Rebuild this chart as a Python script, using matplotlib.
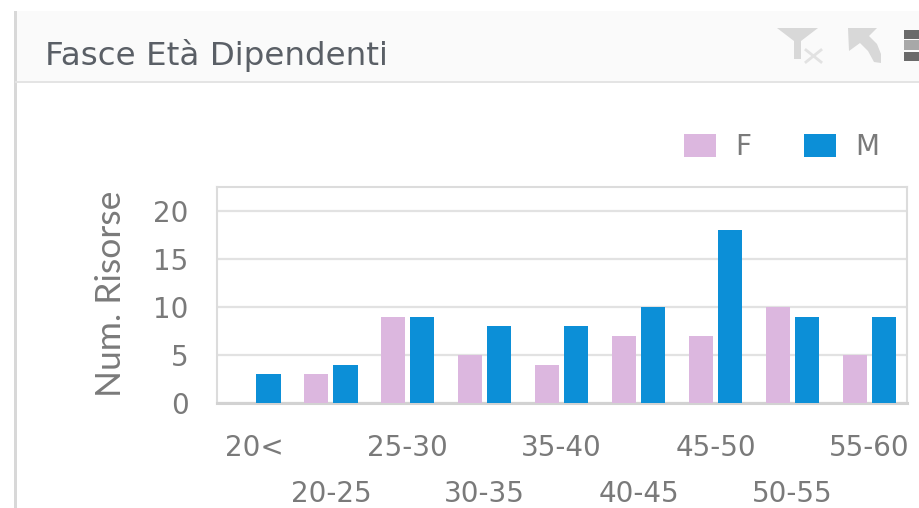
import matplotlib
matplotlib.use("Agg")
import matplotlib.pyplot as plt
import numpy as np
from matplotlib.patches import Polygon, Rectangle

plt.rcParams['font.family'] = ['DejaVu Sans']

categories = ['20<', '20-25', '25-30', '30-35', '35-40', '40-45', '45-50', '50-55', '55-60']
female = [0, 3, 9, 5, 4, 7, 7, 10, 5]
male = [3, 4, 9, 8, 8, 10, 18, 9, 9]
y_ticks = [0, 5, 10, 15, 20]
title = 'Fasce Età Dipendenti'
y_label = 'Num. Risorse'

W, H = 920, 508
TXT = '#7a7a7a'
fig = plt.figure(figsize=(W / 100, H / 100), dpi=100, facecolor='white')

# page furniture in pixel coordinates
bg = fig.add_axes([0, 0, 1, 1], zorder=0)
bg.set_xlim(0, W); bg.set_ylim(H, 0); bg.axis('off')
bg.add_patch(Rectangle((16, 11), W - 16, 71, fc='#fafafa', ec='none'))
bg.plot([16, W], [82, 82], color='#e4e4e4', lw=1.4)
bg.add_patch(Rectangle((14, 11), 3, H - 11, fc='#d8d8d8', ec='none'))
bg.text(45, 55, title, fontsize=23.4, color='#5a5f66', va='center', ha='left')
bg.add_patch(Polygon([(777, 28), (818, 28), (801, 41), (801, 59), (794, 59), (794, 41)], fc='#d8d8d8', ec='none'))
bg.plot([806, 821], [50, 62], color='#e2e2e2', lw=2)
bg.plot([806, 821], [62, 50], color='#e2e2e2', lw=2)
bg.add_patch(Polygon([(848, 28), (877, 28), (869, 36), (877, 44), (881, 54), (881, 63), (874, 62),
                      (868, 51), (860, 43), (849, 51)], fc='#d8d8d8', ec='none'))
bg.add_patch(Rectangle((904, 30), 16, 9, fc='#6a6a6a', ec='none'))
bg.add_patch(Rectangle((904, 40), 16, 10, fc='#a8a8a8', ec='none'))
bg.add_patch(Rectangle((904, 52), 16, 9, fc='#6a6a6a', ec='none'))

L, R, T, B = 217, 907, 187, 403
ax = fig.add_axes([L / W, 1 - B / H, (R - L) / W, (B - T) / H], zorder=1)
ax.patch.set_alpha(0)
x = np.arange(len(categories))
width = 0.315
off = 0.19
ax.bar(x - off, female, width, color='#dcb7df', label='F', zorder=3)
ax.bar(x + off, male, width, color='#0c8fd7', label='M', zorder=3)
ax.set_xlim(-0.48, 8.49)
ax.set_ylim(0, 22.5)
ax.set_yticks(y_ticks)
ax.set_xticks(x)
ax.set_xticklabels([c if i % 2 == 0 else '\n' + c for i, c in enumerate(categories)],
                   linespacing=1.84)
ax.grid(axis='y', color='#e2e2e2', lw=1.6, zorder=1)
ax.set_axisbelow(True)
for s in ['left', 'top', 'right']:
    ax.spines[s].set_color('#dcdcdc'); ax.spines[s].set_linewidth(1.5)
ax.spines['bottom'].set_color('#d2d2d2'); ax.spines['bottom'].set_linewidth(2.2)
ax.tick_params(axis='x', length=0, pad=22, labelsize=20, labelcolor=TXT)
ax.tick_params(axis='y', length=0, pad=20.5, labelsize=20, labelcolor=TXT)
bg.text(111, 294, y_label, rotation=90, ha='center', va='center', color=TXT, fontsize=25.5,
        family=['Lato', 'DejaVu Sans'])

fs = 20
px = fs / 0.72
leg = ax.legend(loc='center left', bbox_to_anchor=(684 / W, 1 - 147 / H), bbox_transform=fig.transFigure,
                ncol=2, frameon=False, fontsize=fs, labelcolor=TXT, borderpad=0, borderaxespad=0,
                handlelength=32 / px, handleheight=26 / px, handletextpad=19 / px, columnspacing=53 / px)
fig.savefig('out.png', dpi=100)
